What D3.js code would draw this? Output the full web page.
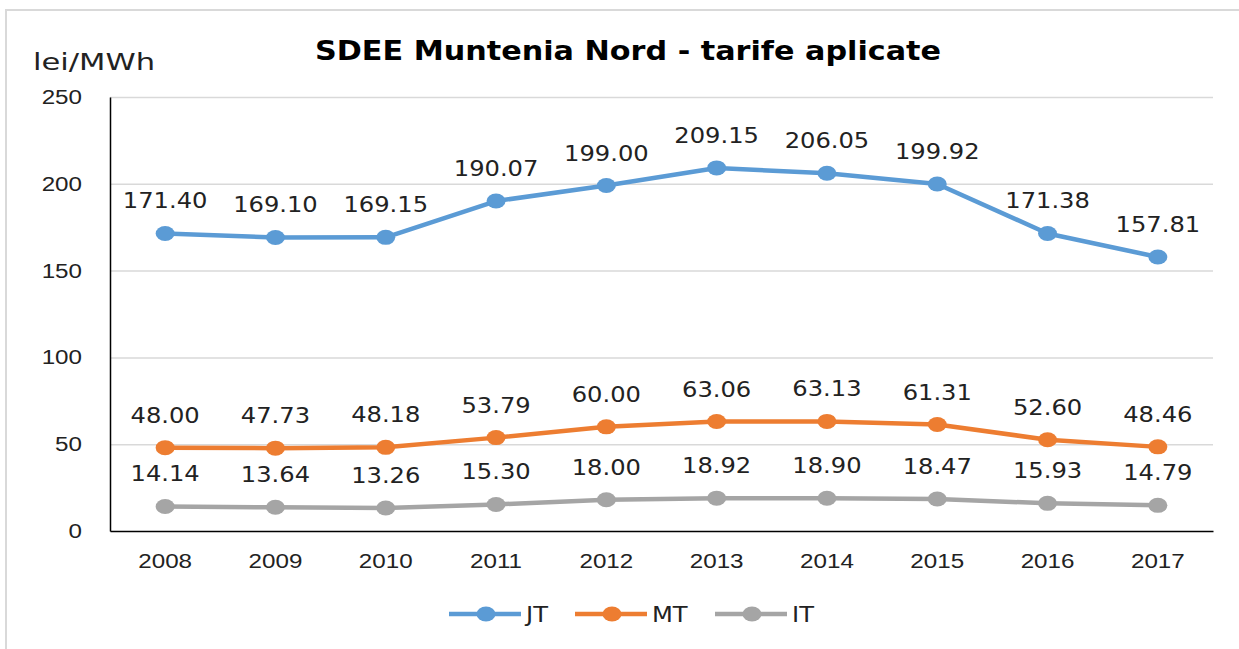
<!DOCTYPE html>
<html>
<head>
<meta charset="utf-8">
<script src="https://cdn.jsdelivr.net/npm/d3@7"></script>
<style>
  body { margin: 0; background: #fff; }
  svg { display: block; font-family: "DejaVu Sans", Verdana, sans-serif; }
</style>
</head>
<body>
<svg></svg>
<script>
const years = ['2008', '2009', '2010', '2011', '2012', '2013', '2014', '2015', '2016', '2017']
const jt = [171.40, 169.10, 169.15, 190.07, 199.00, 209.15, 206.05, 199.92, 171.38, 157.81]
const mt = [48.00, 47.73, 48.18, 53.79, 60.00, 63.06, 63.13, 61.31, 52.60, 48.46]
const it = [14.14, 13.64, 13.26, 15.30, 18.00, 18.92, 18.90, 18.47, 15.93, 14.79]
const yTicks = [0, 50, 100, 150, 200, 250]

const series = [
    { name: 'JT', values: jt, color: '#5b9bd5' },
    { name: 'MT', values: mt, color: '#ed7d31' },
    { name: 'IT', values: it, color: '#a5a5a5' }
]

const width = 1239
const height = 649
const margin = { top: 97, right: 26, bottom: 118, left: 110 }
const innerWidth = width - margin.left - margin.right
const innerHeight = height - margin.top - margin.bottom
// the source picture is stretched sideways, so text is widened a bit
const sx = 1.18
const fs = 20.5

const svg = d3.select('svg')
    .attr('width', width)
    .attr('height', height)

// put a text at (x,y), widened by k
function label(parent, x, y, str, size, k, anchor, weight) {
    return parent.append('text')
        .attr('transform', `translate(${x},${y}) scale(${k},1)`)
        .attr('text-anchor', anchor || 'start')
        .style('font-size', size + 'px')
        .style('font-weight', weight || 'normal')
        .attr('fill', '#222')
        .text(str)
}

// outer frame (only top and left edges show)
svg.append('path')
    .attr('d', `M6,${height} V10 H${width}`)
    .attr('fill', 'none')
    .attr('stroke', '#d9d9d9')
    .attr('stroke-width', 2)

label(svg, 628, 60, 'SDEE Muntenia Nord - tarife aplicate', 27, 1.12, 'middle', 'bold').attr('fill', '#000')
label(svg, 33, 70, 'lei/MWh', 23, 1.33, 'start')

const xScale = d3.scaleBand()
    .domain(years)
    .range([0, innerWidth])

const yScale = d3.scaleLinear()
    .domain([0, 250])
    .range([innerHeight, 0])

const g = svg.append('g')
    .attr('transform', `translate(${margin.left},${margin.top})`)

// gridlines
g.selectAll('.grid')
    .data(yTicks.filter(d => d > 0))
    .enter()
    .append('line')
    .attr('x1', 0).attr('x2', innerWidth)
    .attr('y1', d => yScale(d) + 0.5).attr('y2', d => yScale(d) + 0.5)
    .attr('stroke', '#d9d9d9')
    .attr('stroke-width', 1.5)

const yAxis = d3.axisLeft(yScale).tickValues(yTicks).tickSize(0).tickPadding(24)
const gy = g.append('g').call(yAxis)
gy.select('.domain').attr('stroke', '#000').attr('stroke-width', 1.5)
gy.selectAll('text')
    .attr('x', -28 / sx)
    .attr('transform', `scale(${sx},1)`)
    .style('font-size', fs + 'px')
    .attr('fill', '#222')

const xAxis = d3.axisBottom(xScale).tickSize(0).tickPadding(22)
const gx = g.append('g')
    .attr('transform', `translate(0,${innerHeight})`)
    .call(xAxis)
gx.select('.domain').attr('stroke', '#000').attr('stroke-width', 1.5)
gx.selectAll('text')
    .attr('transform', `scale(${sx},1)`)
    .style('font-size', fs + 'px')
    .attr('fill', '#222')

const cx = (d, i) => xScale(years[i]) + xScale.bandwidth() / 2
const line = d3.line()
    .x(cx)
    .y(d => yScale(d))

series.forEach(s => {
    g.append('path')
        .datum(s.values)
        .attr('fill', 'none')
        .attr('stroke', s.color)
        .attr('stroke-width', 4.5)
        .attr('stroke-linejoin', 'round')
        .attr('d', line)

    g.selectAll(null)
        .data(s.values)
        .enter()
        .append('ellipse')
        .attr('cx', cx)
        .attr('cy', d => yScale(d))
        .attr('rx', 9.5)
        .attr('ry', 7.5)
        .attr('fill', s.color)

    s.values.forEach((v, i) => {
        label(g, cx(v, i), yScale(v) - 25, v.toFixed(2), fs, sx, 'middle')
    })
})

// legend
const legendX = [449, 575, 715]
series.forEach((s, i) => {
    const lg = svg.append('g')
        .attr('transform', `translate(${legendX[i]},614)`)
    lg.append('line')
        .attr('x1', 0).attr('x2', 72)
        .attr('stroke', s.color)
        .attr('stroke-width', 4.5)
    lg.append('ellipse')
        .attr('cx', 37).attr('rx', 9.5).attr('ry', 7.5)
        .attr('fill', s.color)
    label(lg, 77, 8, s.name, fs, sx, 'start')
})
</script>
</body>
</html>
